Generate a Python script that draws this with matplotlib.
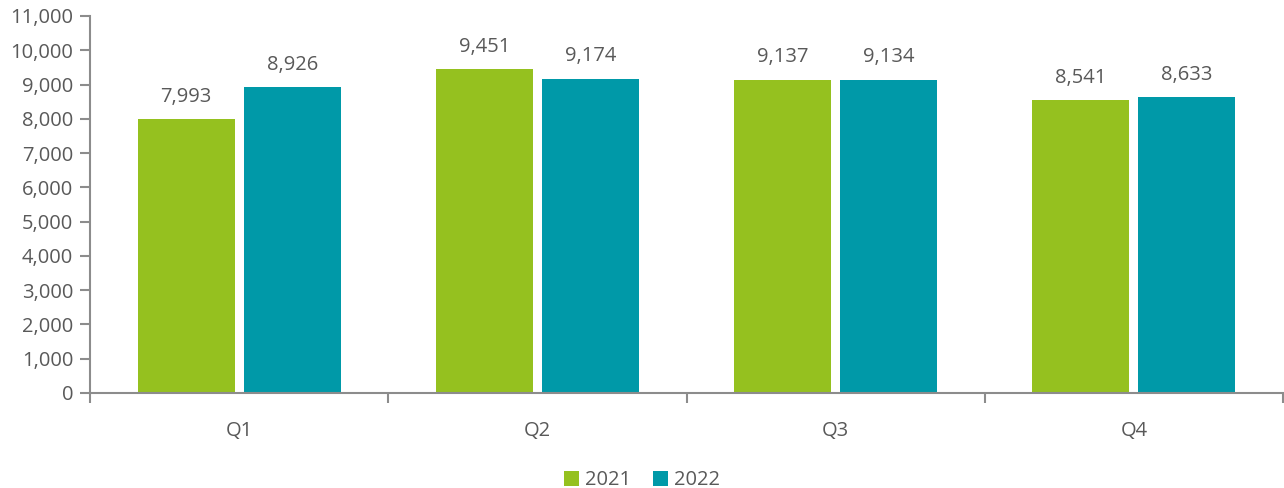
import numpy as np
import matplotlib.pyplot as plt
from matplotlib.ticker import FuncFormatter

# values
quarters = ['Q1', 'Q2', 'Q3', 'Q4']
y2021 = [7993, 9451, 9137, 8541]
y2022 = [8926, 9174, 9134, 8633]
years = ['2021', '2022']

green = '#95c11f'
teal = '#0099a8'
grey = '#595959'
axis_grey = '#8c8c8c'
fs = 14.5

plt.rcParams['font.family'] = ['Open Sans', 'DejaVu Sans']

fig = plt.figure(figsize=(12.84, 4.88), dpi=100)
ax = fig.add_axes([90 / 1284, 95 / 488, 1193 / 1284, 377 / 488])

x = np.arange(len(quarters))
w = 0.325
off = 0.178
b1 = ax.bar(x - off, y2021, w, color=green, label=years[0])
b2 = ax.bar(x + off, y2022, w, color=teal, label=years[1])

for bars, vals in ((b1, y2021), (b2, y2022)):
    for b, v in zip(bars, vals):
        ax.annotate(f'{v:,}', (b.get_x() + b.get_width() / 2, v),
                    xytext=(0, 9), textcoords='offset points',
                    ha='center', va='bottom', fontsize=fs, color=grey)

ax.set_xlim(-0.5, len(quarters) - 0.5)
ax.set_ylim(0, 11000)
ax.set_yticks(np.arange(0, 11001, 1000))
ax.yaxis.set_major_formatter(FuncFormatter(lambda v, p: f'{int(v):,}'))

# category labels centred, ticks at the boundaries
ax.set_xticks(np.arange(-0.5, len(quarters), 1.0))
ax.set_xticklabels([])
ax.set_xticks(x, minor=True)
ax.set_xticklabels(quarters, minor=True)
ax.tick_params(axis='x', which='minor', length=0, pad=20, labelsize=fs, labelcolor=grey)
ax.tick_params(axis='x', which='major', length=7, width=1.5, color=axis_grey, direction='out')
ax.tick_params(axis='y', length=7, width=1.5, color=axis_grey, labelsize=fs,
               labelcolor=grey, pad=5)

for s in ['top', 'right']:
    ax.spines[s].set_visible(False)
for s in ['left', 'bottom']:
    ax.spines[s].set_color(axis_grey)
    ax.spines[s].set_linewidth(1.5)

fig.legend(loc='lower center', bbox_to_anchor=(0.5, -0.042), ncol=2, frameon=False,
           fontsize=fs, labelcolor=grey, handlelength=0.75, handleheight=0.75,
           handletextpad=0.3, columnspacing=1.1)

fig.savefig('out.png', dpi=100)
